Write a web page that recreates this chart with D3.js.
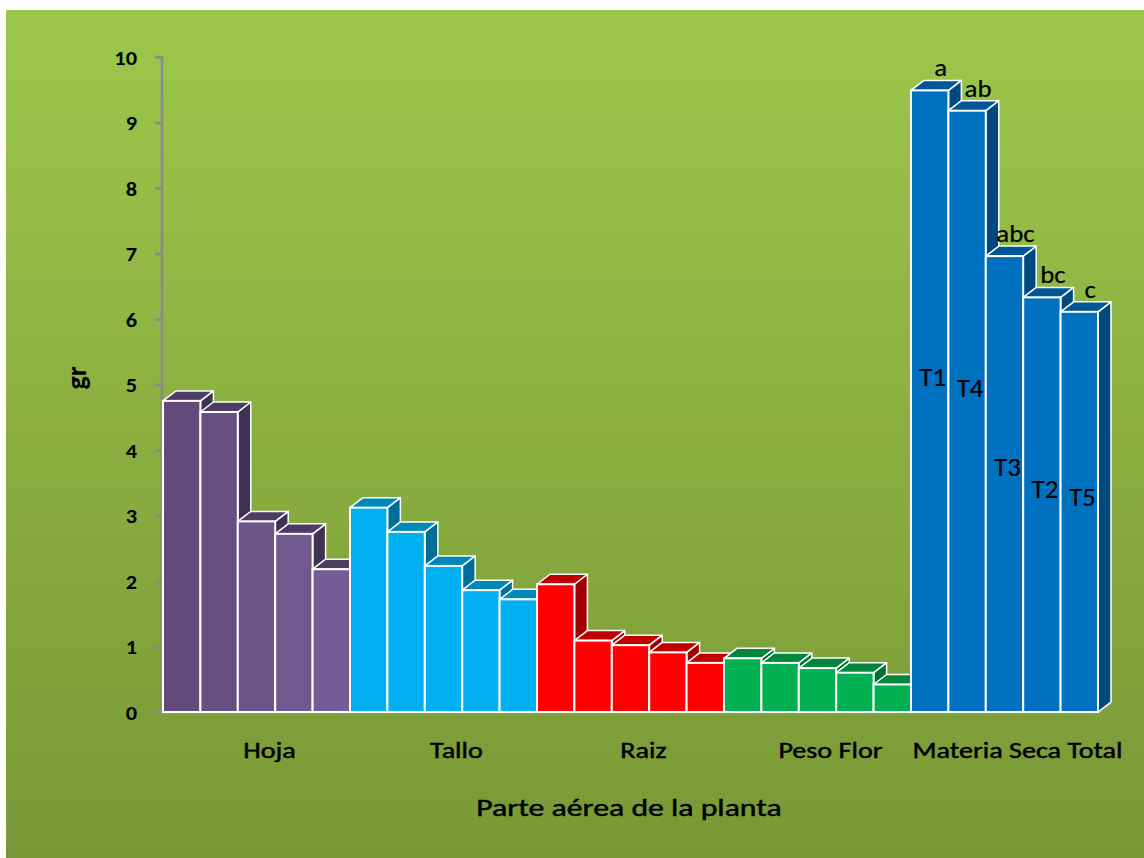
<!DOCTYPE html>
<html>
<head>
<meta charset="utf-8">
<script src="https://cdn.jsdelivr.net/npm/d3@7"></script>
<style>
  html, body { margin: 0; padding: 0; background: #ffffff; }
  svg { display: block; }
  text { font-family: Carlito, Lato, "Liberation Sans", sans-serif; fill: #000; }
</style>
</head>
<body>
<svg id="chart" width="1144" height="858"></svg>
<script>
// ---- data ----
const categories = ["Hoja", "Tallo", "Raiz", "Peso Flor", "Materia Seca Total"];
const hoja        = [4.75, 4.58, 2.91, 2.72, 2.18];
const tallo       = [3.12, 2.75, 2.23, 1.86, 1.72];
const raiz        = [1.95, 1.09, 1.02, 0.91, 0.75];
const pesoFlor    = [0.82, 0.75, 0.67, 0.60, 0.42];
const materiaSeca = [9.49, 9.18, 6.96, 6.33, 6.11];
const msLetters   = ["a", "ab", "abc", "bc", "c"];
const msTreat     = ["T1", "T4", "T3", "T2", "T5"];
const yTicks      = [0, 1, 2, 3, 4, 5, 6, 7, 8, 9, 10];
const yTitle = "gr";
const xTitle = "Parte aérea de la planta";

// ---- styles ----
const groupStyles = [
  { front: ["#624b7b", "#765c96"], top: "#4e3c66", side: "#3f3152" },
  { front: ["#00b0f0", "#00b0f0"], top: "#0088b9", side: "#006f98" },
  { front: ["#ff0000", "#ff0000"], top: "#c00000", side: "#a00000" },
  { front: ["#00b050", "#00b050"], top: "#00863d", side: "#007033" },
  { front: ["#0070c0", "#0070c0"], top: "#005696", side: "#004a80" }
];

const seriesByGroup = [hoja, tallo, raiz, pesoFlor, materiaSeca];
const bars = [];
seriesByGroup.forEach((vals, g) => vals.forEach((v, i) => bars.push({ g, i, v, key: g + "-" + i })));

const svg = d3.select("#chart");
const defs = svg.append("defs");
const bg = defs.append("linearGradient").attr("id", "bg").attr("x1", 0).attr("y1", 0).attr("x2", 0).attr("y2", 1);
bg.append("stop").attr("offset", "0%").attr("stop-color", "#9dc74b");
bg.append("stop").attr("offset", "100%").attr("stop-color", "#789836");

svg.append("rect").attr("x", 6).attr("y", 10).attr("width", 1138).attr("height", 848).attr("fill", "url(#bg)");

const plot = { left: 163, right: 1098, top: 57, bottom: 712 };
const depth = { dx: 13, dy: 10 };

const x = d3.scaleBand().domain(bars.map(d => d.key)).range([plot.left, plot.right]).padding(0);
const y = d3.scaleLinear().domain([0, 10]).range([plot.bottom, plot.top]);
const bw = x.bandwidth();

// stretched text helper (the reference text is horizontally widened)
function stext(parent, tx, ty, str, size, sx, opts = {}) {
  return parent.append("text")
    .attr("transform", `translate(${tx},${ty}) scale(${sx},1)`)
    .attr("text-anchor", opts.anchor || "middle")
    .attr("font-size", size)
    .attr("font-weight", opts.weight || "normal")
    .attr("stroke", "#000").attr("stroke-width", opts.sw == null ? 0.45 : opts.sw)
    .text(str);
}

// floor line
svg.append("path")
  .attr("d", `M${plot.left - 6},${plot.bottom} L${plot.right},${plot.bottom} L${plot.right + depth.dx},${plot.bottom - depth.dy}`)
  .attr("fill", "none").attr("stroke", "#b4b4b4").attr("stroke-width", 2.5);

// y axis
const yAxis = d3.axisLeft(y).tickValues(yTicks).tickSize(7).tickPadding(12).tickFormat(d3.format("d"));
const yg = svg.append("g").attr("transform", `translate(${plot.left - 1},0)`).call(yAxis);
yg.select(".domain").attr("stroke", "#8a8a8a").attr("stroke-width", 2.5).attr("d", `M-7,${plot.top}H0V${plot.bottom}H-7`);
yg.selectAll(".tick line").attr("stroke", "#8a8a8a").attr("stroke-width", 2.5);
yg.selectAll(".tick text")
  .attr("x", 0).attr("dy", "0.35em")
  .attr("transform", "translate(-25,0) scale(1.12,1)")
  .attr("font-size", 20).attr("font-weight", "bold")
  .attr("font-family", "Carlito, Lato, 'Liberation Sans', sans-serif").attr("fill", "#000");

// bars
const bg3 = svg.append("g");
bars.forEach(d => {
  const st = groupStyles[d.g];
  const x0 = x(d.key), x1 = x0 + bw, yt = y(d.v), y0 = y(0);
  const { dx, dy } = depth;
  const g = bg3.append("g");
  const frontColor = d3.interpolateRgb(st.front[0], st.front[1])(d.i / 4);
  g.append("polygon")
    .attr("points", [[x1, yt], [x1 + dx, yt - dy], [x1 + dx, y0 - dy], [x1, y0]].join(" "))
    .attr("fill", st.side).attr("stroke", "#ffffff").attr("stroke-width", 1.5).attr("stroke-linejoin", "round");
  g.append("polygon")
    .attr("points", [[x0, yt], [x0 + dx, yt - dy], [x1 + dx, yt - dy], [x1, yt]].join(" "))
    .attr("fill", st.top).attr("stroke", "#ffffff").attr("stroke-width", 1.5).attr("stroke-linejoin", "round");
  g.append("rect")
    .attr("x", x0).attr("y", yt).attr("width", bw).attr("height", y0 - yt)
    .attr("fill", frontColor).attr("stroke", "#ffffff").attr("stroke-width", 2);
});

// Materia seca annotations
const msBars = bars.filter(d => d.g === 4);
const ann = svg.append("g");
msBars.forEach(d => {
  stext(ann, x(d.key) + bw / 2 + 11, y(d.v) - 14, msLetters[d.i], 24, 1.12, { sw: 0.2 });
  stext(ann, x(d.key) + bw / 2 + 3, y(d.v * 0.54) + 10, msTreat[d.i], 27, 1.0, { sw: 0.2 });
});

// category labels
const cg = svg.append("g");
categories.forEach((c, g) => {
  stext(cg, x(g + "-0") + bw * 2.5 + depth.dx, 758, c, 22, 1.28);
});

// axis titles
stext(svg, 629, 816, xTitle, 25, 1.27);
svg.append("text").attr("transform", "translate(86,378) rotate(-90)").attr("text-anchor", "middle")
  .attr("font-size", 28).attr("font-weight", "bold").text(yTitle);
</script>
</body>
</html>
